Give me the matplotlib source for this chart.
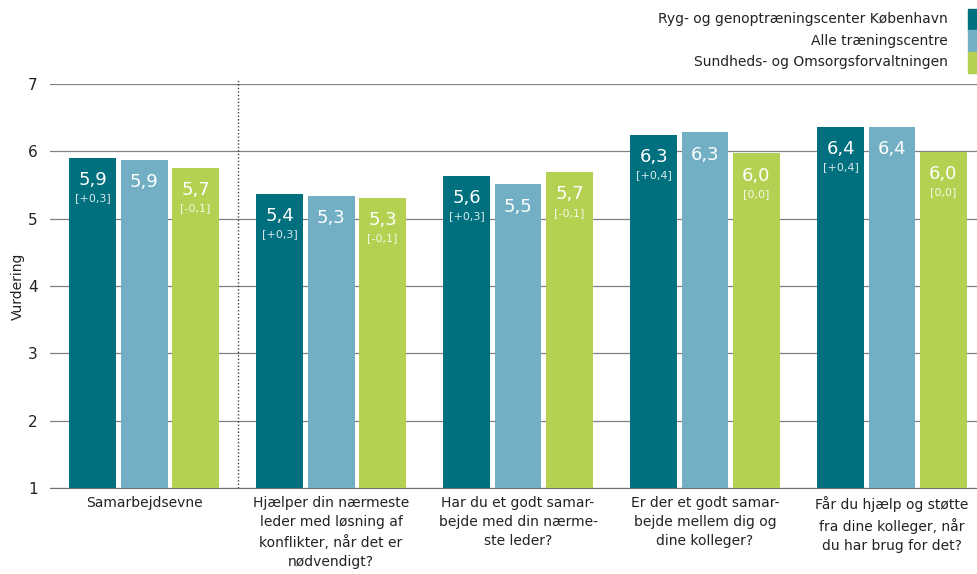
import matplotlib.pyplot as plt
from matplotlib.patches import Rectangle
import numpy as np

kategorier = ['Samarbejdsevne',
              'Hjælper din nærmeste\nleder med løsning af\nkonflikter, når det er\nnødvendigt?',
              'Har du et godt samar-\nbejde med din nærme-\nste leder?',
              'Er der et godt samar-\nbejde mellem dig og\ndine kolleger?',
              'Får du hjælp og støtte\nfra dine kolleger, når\ndu har brug for det?']
serier = ['Ryg- og genoptræningscenter København', 'Alle træningscentre',
          'Sundheds- og Omsorgsforvaltningen']
center = [5.90, 5.37, 5.64, 6.25, 6.36]
alle = [5.87, 5.34, 5.51, 6.28, 6.36]
forvaltning = [5.75, 5.31, 5.69, 5.97, 5.99]
center_txt = ['5,9', '5,4', '5,6', '6,3', '6,4']
alle_txt = ['5,9', '5,3', '5,5', '6,3', '6,4']
forv_txt = ['5,7', '5,3', '5,7', '6,0', '6,0']
center_diff = ['[+0,3]', '[+0,3]', '[+0,3]', '[+0,4]', '[+0,4]']
forv_diff = ['[-0,1]', '[-0,1]', '[-0,1]', '[0,0]', '[0,0]']
farver = ['#00707f', '#72afc4', '#b5d152']

fig = plt.figure(figsize=(9.78, 5.74), dpi=100)
ax = fig.add_axes([50 / 978, 86 / 574, 928 / 978, 404 / 574])

x = np.arange(len(kategorier))
step = 0.275
bw = 0.251
data = [center, alle, forvaltning]
txts = [center_txt, alle_txt, forv_txt]
diffs = [center_diff, None, forv_diff]
for i in range(3):
    xs = x + (i - 1) * step
    vals = np.array(data[i])
    ax.bar(xs, vals - 1, bottom=1, width=bw, color=farver[i], zorder=3)
    for j in range(len(x)):
        ax.text(xs[j], vals[j] - 0.33, txts[i][j], ha='center', va='center',
                color='white', fontsize=13, zorder=4)
        if diffs[i] is not None:
            ax.text(xs[j], vals[j] - 0.6, diffs[i][j], ha='center', va='center',
                    color='white', alpha=0.85, fontsize=8, zorder=4)

ax.set_xlim(-0.503, 4.46)
ax.set_ylim(1, 7)
ax.set_yticks(range(1, 8))
ax.yaxis.grid(True, color='#808080', linewidth=0.9)
ax.set_axisbelow(True)
for s in ['top', 'right', 'left']:
    ax.spines[s].set_visible(False)
ax.spines['bottom'].set_color('#707070')
ax.tick_params(axis='y', length=0, pad=9, labelsize=11, labelcolor='#222222')
ax.tick_params(axis='x', length=0, pad=6, labelsize=10, labelcolor='#222222')
ax.set_xticks(x)
ax.set_xticklabels(kategorier, linespacing=1.45)
ax.set_ylabel('Vurdering', fontsize=10, labelpad=2, color='#222222')
ax.plot([0.5, 0.5], [1, 7.06], color='#404040', linestyle=(0, (1, 1.5)),
        linewidth=1, clip_on=False, zorder=2)

# forklaring øverst til højre
for i, navn in enumerate(serier):
    y = 1 - (19 + i * 21.5) / 574
    fig.text(948 / 978, y, navn, ha='right', va='center', fontsize=10, color='#222222')
    fig.patches.append(Rectangle((968 / 978, y - 11 / 574), 9 / 978, 21 / 574,
                                 transform=fig.transFigure, color=farver[i]))

fig.savefig('out.png', dpi=100)
